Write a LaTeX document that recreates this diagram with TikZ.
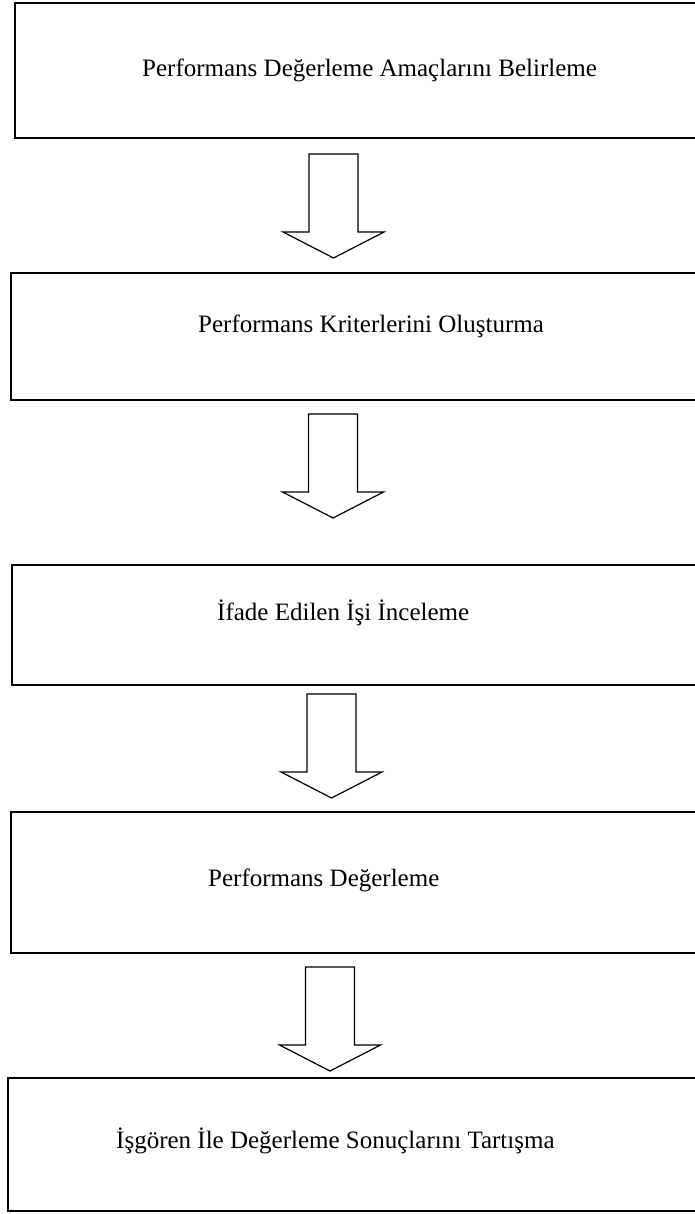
\documentclass[tikz,border=0pt]{standalone}
\usepackage{fontspec}
\setmainfont{Liberation Serif}
\usetikzlibrary{calc}

\tikzset{
  x=1pt, y=-1pt,
  stagebox/.style={draw, line width=1.5pt, inner sep=0pt, outer sep=0pt,
    anchor=north west, minimum width=700pt},
  stagetext/.style={anchor=base west, inner sep=0pt,
    font=\fontsize{25}{30}\selectfont},
  blockarrow/.style={draw, line width=1.2pt, fill=white, line join=miter},
  pics/downarrow/.style={code={
    \draw[blockarrow] (-24.5,0) -- (24.5,0) -- (24.5,78) -- (50.5,78)
      -- (0,104) -- (-50.5,78) -- (-24.5,78) -- cycle;
  }}
}

\begin{document}
\begin{tikzpicture}
  \useasboundingbox (0,0) rectangle (695,1214);
  \clip (0,0) rectangle (695,1214);

  % stage boxes (they run past the right edge of the page)
  \node[stagebox, minimum height=135pt] (b1) at (15,3) {};
  \node[stagebox, minimum height=127pt] (b2) at (11,273) {};
  \node[stagebox, minimum height=120pt] (b3) at (12,565) {};
  \node[stagebox, minimum height=141pt] (b4) at (11,812) {};
  \node[stagebox, minimum height=133pt] (b5) at (8,1078) {};

  % stage titles
  \node[stagetext] (t1) at (142,77)  {Performans Değerleme Amaçlarını Belirleme};
  \node[stagetext] (t2) at (198,332) {Performans Kriterlerini Oluşturma};
  \node[stagetext] (t3) at (217,620) {İfade Edilen İşi İnceleme};
  \node[stagetext] (t4) at (208,886) {Performans Değerleme};
  \node[stagetext] (t5) at (116,1148) {İşgören İle Değerleme Sonuçlarını Tartışma};

  % block arrows between the stages
  \pic at ($(b1.south west)+(318.5,16)$) {downarrow};
  \pic at ($(b2.south west)+(322,14)$) {downarrow};
  \pic at ($(b3.south west)+(319.5,9)$) {downarrow};
  \pic at ($(b4.south west)+(319,14)$) {downarrow};
\end{tikzpicture}
\end{document}
